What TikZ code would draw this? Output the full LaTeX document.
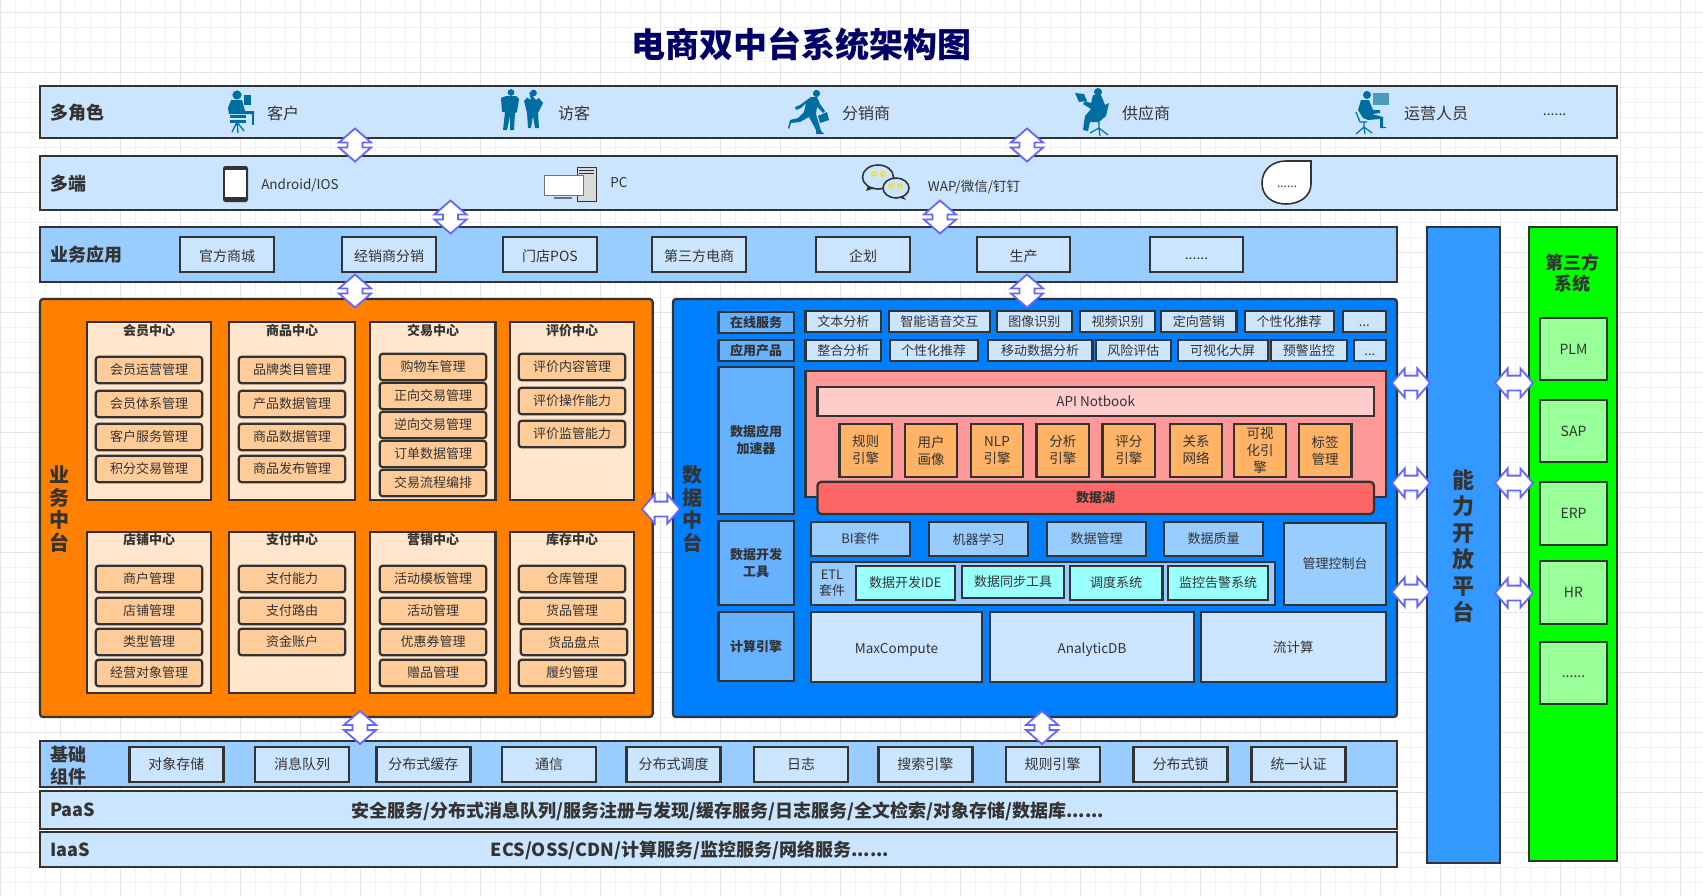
\documentclass[tikz,border=0pt]{standalone}
\usepackage{fontspec}
\setmainfont{Noto Sans CJK SC}
\usepackage{tikz}
\usetikzlibrary{shapes.arrows}

\definecolor{ink}{HTML}{333333}
\definecolor{titleblue}{HTML}{000066}
\definecolor{linkblue}{HTML}{6666FF}
\definecolor{iconblue}{HTML}{006EA0}
\definecolor{pale}{HTML}{CCE5FF}
\definecolor{midblue}{HTML}{99CCFF}
\definecolor{centrebg}{HTML}{FFE6CC}
\definecolor{itembg}{HTML}{FFCC99}
\definecolor{tagblue}{HTML}{66B2FF}
\definecolor{enginebg}{HTML}{FFB366}
\definecolor{etlbg}{HTML}{99FFFF}
\definecolor{thirdbg}{HTML}{99FF99}
\definecolor{bizbg}{HTML}{FF8000}
\definecolor{databg}{HTML}{007FFF}
\definecolor{pinkbg}{HTML}{FF9999}
\definecolor{notebg}{HTML}{FFCCCC}
\definecolor{lakebg}{HTML}{FF6666}
\definecolor{openbg}{HTML}{3399FF}
\definecolor{greenbg}{HTML}{00FF00}

\tikzset{
  txt/.style={text=ink,inner sep=0pt,align=center,font=\fontsize{13.5pt}{17pt}\selectfont},
  rolename/.style={txt,font=\fontsize{16pt}{18pt}\selectfont},
  head/.style={text=ink,inner sep=0pt,align=center,font=\fontsize{18pt}{22pt}\selectfont\bfseries},
  centretitle/.style={txt,font=\fontsize{13pt}{17pt}\selectfont\bfseries},
  box/.style={draw=ink,line width=2.2pt,outer sep=0pt,inner sep=0pt,text=ink,align=center,font=\fontsize{13pt}{17pt}\selectfont},
  band/.style={box,minimum height=#1},
  panel/.style={box,fill=#1,rounded corners=3pt},
  appbox/.style={box,fill=pale,font=\fontsize{14pt}{17pt}\selectfont,minimum width=93.5,minimum height=35},
  dropped/.style={text height=13pt,text depth=0pt},
  dots/.style={text height=9pt,text depth=0pt},
  centre/.style={box,fill=centrebg,minimum height=#1},
  item/.style={box,fill=itembg,rounded corners=3pt,minimum width=106.5,minimum height=26.6},
  tag/.style={box,fill=tagblue,font=\fontsize{13pt}{17pt}\selectfont\bfseries,minimum width=75.6},
  svc/.style={box,fill=pale,minimum height=21.6},
  engine/.style={box,fill=enginebg,font=\fontsize{13.5pt}{17pt}\selectfont,minimum width=52.5,minimum height=53.3},
  tool/.style={box,fill=midblue,minimum width=99,minimum height=34},
  etl/.style={box,fill=etlbg},
  calc/.style={box,fill=pale,font=\fontsize{13.5pt}{17pt}\selectfont,minimum height=69.7},
  third/.style={box,fill=thirdbg,font=\fontsize{14pt}{17pt}\selectfont,minimum width=67},
  vlink/.style={draw=linkblue,fill=white,line width=1.8pt,inner sep=5.5pt,outer sep=0pt,shape=double arrow,
    shape border rotate=90,double arrow tip angle=98,minimum height=33,minimum width=32},
  hlink/.style={draw=linkblue,fill=white,line width=1.8pt,inner sep=6.5pt,outer sep=0pt,shape=double arrow,
    double arrow tip angle=98,minimum height=38,minimum width=27},
}

\begin{document}
\begin{tikzpicture}[x=1pt,y=-1pt]
\useasboundingbox (0,0) rectangle (1703,895);

% Background grid, thin and thick lines
\begin{scope}
\clip (0,0) rectangle (1703,895);
\begin{scope}[shift={(0.7,12.3)}]
\draw[black!5,line width=0.8pt,step=15pt] (0,-15) grid (1710,885);
\draw[black!10,line width=1pt,step=60pt] (0,-15) grid (1710,885);
\end{scope}
\end{scope}

% Title
\node [text=titleblue,inner sep=0pt,font=\fontsize{34pt}{40pt}\selectfont\bfseries] (title) at (801,44) {电商双中台系统架构图};

% Top rows: roles and terminals
\node [band=52,fill=pale,minimum width=1577] (role) at (828.5,112) {};
\node [band=54,fill=pale,minimum width=1577] (term) at (828.5,183) {};
\node [head,anchor=west] (roleLabel) at (50,113) {多角色};
\node [head,anchor=west] (termLabel) at (50,184) {多端};

\node [rolename] (rCustomer) at (283,113) {客户};
\node [rolename] (rVisitor) at (574,113) {访客};
\node [rolename] (rDealer) at (866,113) {分销商};
\node [rolename] (rSupplier) at (1146,113) {供应商};
\node [rolename] (rOperator) at (1436,113) {运营人员};
\node [txt,font=\fontsize{14pt}{17pt}\selectfont] (rMore) at (1554.6,114.5) {......};

\node [txt] (tPhone) at (300,185) {Android/IOS};
\node [txt] (tPc) at (619,183) {PC};
\node [txt] (tChat) at (974,187) {WAP/微信/钉钉};

% Icon: customer at a desk
\fill[iconblue] (237,95) circle [radius=4.6];
\fill[iconblue] (231,100) -- (242,100) -- (245,111) -- (254,111) -- (254,114) -- (229,114) -- (228,108) -- cycle;
\fill[iconblue] (244,95) rectangle (251,105);
\fill[iconblue] (230,115) rectangle (246,118);
\fill[iconblue] (230,119.5) rectangle (246,122.5);
\fill[iconblue] (251.5,114) rectangle (253.5,125);
\draw[iconblue,line width=1.3pt] (237,122) -- (232,132) (237,122) -- (238,133) (237,122) -- (244,131);

% Icon: visitors, man and woman
\fill[iconblue] (511,92.5) circle [radius=3.4];
\fill[iconblue] (501,98) -- (506,96) -- (516,96) -- (519,99) -- (517,112) -- (515,113) -- (514,130) -- (510,130) -- (510,116) -- (507,130) -- (503,130) -- (505,112) -- (502,112) -- cycle;
\fill[iconblue] (533.5,93) circle [radius=3.4];
\fill[iconblue] (529,92) -- (531,100) -- (527,97.5) -- (524,101) -- (527,113) -- (528,128) -- (531,128) -- (533,116) -- (535,128) -- (539,128) -- (538,113) -- (543,103) -- (539,98) -- (536,100) -- cycle;

% Icon: dealer running with a case
\fill[iconblue] (816.5,93.5) circle [radius=3.6];
\fill[iconblue] (811,97) -- (817,97) -- (820,104) -- (825,111) -- (823,113) -- (817,107) -- (816,114) -- (821,131) -- (824,134) -- (816,134) -- (816,130) -- (809,117) -- (800,122) -- (791,123) -- (789,129) -- (788,128) -- (790,120) -- (798,118) -- (804,112) -- (806,103) -- (801,108) -- (796,110) -- (795,107) -- (800,105) -- cycle;
\fill[iconblue] (818,116) -- (827,112) -- (829,120) -- (820,123) -- cycle;

% Icon: supplier on a chair with a laptop
\fill[iconblue] (1098,92) circle [radius=4];
\fill[iconblue] (1075,93) -- (1084,94) -- (1087,101) -- (1079,102) -- cycle;
\fill[iconblue] (1093,95) -- (1101,95) -- (1105,105) -- (1109,103) -- (1106,116) -- (1099,122) -- (1090,122) -- (1088,131) -- (1083,130) -- (1085,116) -- (1091,109) -- (1083,104) -- (1085,101) -- (1091,103) -- cycle;
\draw[iconblue,line width=1.2pt] (1099,122) -- (1099,128) (1090,133) -- (1099,128) -- (1108,135) (1099,128) -- (1100,136);

% Icon: operator at a computer
\fill[iconblue] (1367,95) circle [radius=4];
\fill[iconblue] (1361,100) -- (1369,100) -- (1373,110) -- (1380,110) -- (1380,113) -- (1372,114) -- (1383,117) -- (1383,127) -- (1386,127) -- (1386,128) -- (1380,128) -- (1380,119) -- (1368,120) -- (1363,118) -- (1358,110) -- cycle;
\fill[iconblue!70!white] (1373,93) rectangle (1389,105);
\draw[iconblue,line width=1.2pt] (1356,112) -- (1360,122) -- (1367,122) (1364,122) -- (1364,127) (1356,134) -- (1364,127) -- (1372,133) (1364,127) -- (1365,134);

% Icon: phone
\fill[ink,rounded corners=2.5pt] (223,166) rectangle (248,202);
\fill[white] (225,170) rectangle (246,197);
% Icon: pc tower and screen
\draw[ink,fill=black!15,line width=1pt] (577,167) rectangle (596,201);
\draw[ink,line width=1pt] (579,170) -- (594,170) (579,173) -- (594,173);
\draw[black!55,fill=white,line width=1pt] (544,175) rectangle (583,195);
\fill[black!55] (554,197) rectangle (572,199);
% Icon: chat bubbles
\draw[ink,fill=pale,line width=1.6pt] (878,177) circle [x radius=15.5,y radius=12];
\fill[ink] (868,186) -- (866,191) -- (875,188) -- cycle;
\draw[ink,fill=pale,line width=1.6pt] (896,188) circle [x radius=13,y radius=10];
\fill[ink] (903,196) -- (906,200) -- (898,197) -- cycle;
\draw[yellow!80!orange,line width=1.3pt] (874,174) circle [radius=2.2] (883,174) circle [radius=2.2] (891,186) circle [radius=2.2] (900,186) circle [radius=2.2];
% Icon: tear shaped more
\draw[ink,fill=white,line width=1.6pt] (1311,161) -- (1311,184) .. controls (1311,196) and (1300,204) .. (1286,204) .. controls (1272,204) and (1262,196) .. (1262,183) .. controls (1262,170) and (1272,161) .. (1286,161) -- cycle;
\node [txt,font=\fontsize{12pt}{14pt}\selectfont] (tMore) at (1287,187) {......};

% Business application row
\node [band=55,fill=midblue,minimum width=1357] (app) at (718.5,254.5) {};
\node [head,anchor=west] (appLabel) at (50,255) {业务应用};
\node [appbox,dropped] (a1) at (227,254.5) {官方商城};
\node [appbox,dropped] (a2) at (389,254.5) {经销商分销};
\node [appbox,dropped] (a3) at (550,254.5) {门店POS};
\node [appbox,dropped] (a4) at (699,254.5) {第三方电商};
\node [appbox,dropped] (a5) at (863,254.5) {企划};
\node [appbox,dropped] (a6) at (1023.5,254.5) {生产};
\node [appbox,dots] (a7) at (1196.5,254.5) {......};

% Business middle platform
\node [panel=bizbg,minimum width=612.7,minimum height=418] (biz) at (346.35,508) {};
\node [head,font=\fontsize{20pt}{22.7pt}\selectfont\bfseries] (bizLabel) at (59.5,509) {业\\务\\中\\台};

% Upper row of centres, left to right
\node [centre=178,minimum width=124] (c1) at (149,411) {};
\node [centre=178,minimum width=126.4] (c2) at (292,411) {};
\node [centre=178,minimum width=125.5] (c3) at (432.75,411) {};
\node [centre=178,minimum width=124] (c4) at (572,411) {};
\node [centretitle] (c1t) at (149,331) {会员中心};
\node [centretitle] (c2t) at (292,331) {商品中心};
\node [centretitle] (c3t) at (433,331) {交易中心};
\node [centretitle] (c4t) at (572,331) {评价中心};

\node [item] (c1a) at (149,370) {会员运营管理};
\node [item] (c1b) at (149,404) {会员体系管理};
\node [item] (c1c) at (149,437) {客户服务管理};
\node [item] (c1d) at (149,469) {积分交易管理};

\node [item] (c2a) at (292,370) {品牌类目管理};
\node [item] (c2b) at (292,404) {产品数据管理};
\node [item] (c2c) at (292,437) {商品数据管理};
\node [item] (c2d) at (292,469) {商品发布管理};

\node [item] (c3a) at (433,367) {购物车管理};
\node [item] (c3b) at (433,396) {正向交易管理};
\node [item] (c3c) at (433,425) {逆向交易管理};
\node [item] (c3d) at (433,454) {订单数据管理};
\node [item] (c3e) at (433,483) {交易流程编排};

\node [item] (c4a) at (572,367) {评价内容管理};
\node [item] (c4b) at (572,401) {评价操作能力};
\node [item] (c4c) at (572,434) {评价监管能力};

% Lower row of centres, left to right
\node [centre=161.3,minimum width=124] (d1) at (149,612.35) {};
\node [centre=161.3,minimum width=126.4] (d2) at (292,612.35) {};
\node [centre=161.3,minimum width=125.5] (d3) at (432.75,612.35) {};
\node [centre=161.3,minimum width=124] (d4) at (572,612.35) {};
\node [centretitle] (d1t) at (149,540) {店铺中心};
\node [centretitle] (d2t) at (292,540) {支付中心};
\node [centretitle] (d3t) at (433,540) {营销中心};
\node [centretitle] (d4t) at (572,540) {库存中心};

\node [item] (d1a) at (149,579) {商户管理};
\node [item] (d1b) at (149,611) {店铺管理};
\node [item] (d1c) at (149,642) {类型管理};
\node [item] (d1d) at (149,673) {经营对象管理};

\node [item] (d2a) at (292,579) {支付能力};
\node [item] (d2b) at (292,611) {支付路由};
\node [item] (d2c) at (292,642) {资金账户};

\node [item] (d3a) at (433,579) {活动模板管理};
\node [item] (d3b) at (433,611) {活动管理};
\node [item] (d3c) at (433,642) {优惠券管理};
\node [item] (d3d) at (433,673) {赠品管理};

\node [item] (d4a) at (572,579) {仓库管理};
\node [item] (d4b) at (572,611) {货品管理};
\node [item] (d4c) at (574,642) {货品盘点};
\node [item] (d4d) at (572,673) {履约管理};

% Data middle platform
\node [panel=databg,minimum width=724,minimum height=418] (data) at (1035,508) {};
\node [head,font=\fontsize{20pt}{22.7pt}\selectfont\bfseries] (dataLabel) at (692.5,509) {数\\据\\中\\台};

% Left tags
\node [tag,minimum height=21.6] (online) at (756.2,322.5) {在线服务};
\node [tag,minimum height=21.6] (product) at (756.2,350.5) {应用产品};
\node [tag,minimum height=147.3] (accel) at (756.2,440.35) {数据应用\\加速器};
\node [tag,minimum height=84.3] (devtool) at (756.2,562.85) {数据开发\\工具};
\node [tag,minimum height=69] (compute) at (756.2,646.5) {计算引擎};

% Online services
\node [svc,minimum width=75.5] (s1) at (843.25,321.5) {文本分析};
\node [svc,minimum width=101.3] (s2) at (939.35,321.5) {智能语音交互};
\node [svc,minimum width=75.2] (s3) at (1034.4,321.5) {图像识别};
\node [svc,minimum width=75] (s4) at (1117.5,321.5) {视频识别};
\node [svc,minimum width=75.5] (s5) at (1198.75,321.5) {定向营销};
\node [svc,minimum width=89] (s6) at (1289.2,321.5) {个性化推荐};
\node [svc,dots,minimum width=43.2] (s7) at (1364.4,321.5) {...};

% Application products
\node [svc,minimum width=75.5] (p1) at (843.25,350.5) {整合分析};
\node [svc,minimum width=88] (p2) at (933.7,350.5) {个性化推荐};
\node [svc,minimum width=104.8] (p3) at (1040.1,350.5) {移动数据分析};
\node [svc,minimum width=75.1] (p4) at (1133.45,350.5) {风险评估};
\node [svc,minimum width=90] (p5) at (1222.7,350.5) {可视化大屏};
\node [svc,minimum width=75.6] (p6) at (1308.8,350.5) {预警监控};
\node [svc,dots,minimum width=32.2] (p7) at (1369.9,350.5) {...};

% Accelerator block
\node [box,fill=pinkbg,minimum width=580.5,minimum height=126.3] (accelBox) at (1095.75,433.85) {};
\node [box,fill=notebg,font=\fontsize{13.5pt}{17pt}\selectfont,minimum width=556.6,minimum height=29] (notebook) at (1095.7,401.5) {API Notbook};
\node [engine] (e1) at (865.7,450.35) {规则\\引擎};
\node [engine] (e2) at (931,450.35) {用户\\画像};
\node [engine] (e3) at (997,450.35) {NLP\\引擎};
\node [engine] (e4) at (1062.8,450.35) {分析\\引擎};
\node [engine] (e5) at (1128.8,450.35) {评分\\引擎};
\node [engine] (e6) at (1196,450.35) {关系\\网络};
\node [engine] (e7) at (1260,450.35) {可视\\化引\\擎};
\node [engine] (e8) at (1325.2,450.35) {标签\\管理};
\node [box,fill=lakebg,rounded corners=4pt,font=\fontsize{13pt}{17pt}\selectfont\bfseries,minimum width=556.6,minimum height=32.3] (lake) at (1095.7,497.85) {数据湖};

% Development tools
\node [tool] (t1) at (860.5,539) {BI套件};
\node [tool] (t2) at (978.5,539) {机器学习};
\node [tool] (t3) at (1096.5,539) {数据管理};
\node [tool] (t4) at (1213.5,539) {数据质量};
\node [box,fill=midblue,minimum width=102,minimum height=82.3] (console) at (1335,563.85) {管理控制台};
\node [box,fill=midblue,minimum width=464,minimum height=43] (etlBox) at (1043,583.5) {};
\node [txt,font=\fontsize{13pt}{16.5pt}\selectfont] (etlLabel) at (832,583) {ETL\\套件};
\node [etl,minimum width=98.7,minimum height=34] (i1) at (905.35,583) {数据开发IDE};
\node [etl,minimum width=102,minimum height=32] (i2) at (1013,582) {数据同步工具};
\node [etl,minimum width=92.4,minimum height=34] (i3) at (1116.2,583) {调度系统};
\node [etl,minimum width=100,minimum height=34] (i4) at (1218,583) {监控告警系统};

% Compute engines
\node [calc,dropped,minimum width=171] (m1) at (896.5,646.85) {MaxCompute};
\node [calc,dropped,minimum width=204] (m2) at (1092,646.85) {AnalyticDB};
\node [calc,minimum width=185.3] (m3) at (1293.35,646.85) {流计算};

% Open platform and third party systems
\node [band=636,fill=openbg,minimum width=73.3] (open) at (1463.35,544.7) {};
\node [head,font=\fontsize{22pt}{26.5pt}\selectfont\bfseries] (openLabel) at (1463,546) {能\\力\\开\\放\\平\\台};
\node [band=634,fill=greenbg,minimum width=88] (sys) at (1573,543.7) {};
\node [head,font=\fontsize{18pt}{21.5pt}\selectfont\bfseries] (sysLabel) at (1572.7,273) {第三方\\系统};
\node [third,minimum height=62] (plm) at (1573.5,349) {PLM};
\node [third,minimum height=62] (sap) at (1573.5,431) {SAP};
\node [third,minimum height=63] (erp) at (1573.5,513.5) {ERP};
\node [third,minimum height=63] (hr) at (1573.5,592.5) {HR};
\node [third,dots,minimum height=62] (more) at (1573.5,673) {......};

% Bottom rows
\node [band=46.3,fill=midblue,minimum width=1357] (base) at (718.5,763.85) {};
\node [head,anchor=west] (baseLabel) at (50,765.5) {基础\\组件};
\node [appbox,minimum width=94] (b1) at (176.4,764.5) {对象存储};
\node [appbox,minimum width=94] (b2) at (302,764.5) {消息队列};
\node [appbox,minimum width=94] (b3) at (423.4,764.5) {分布式缓存};
\node [appbox,minimum width=94] (b4) at (549,764.5) {通信};
\node [appbox,minimum width=94] (b5) at (673.5,764.5) {分布式调度};
\node [appbox,minimum width=94] (b6) at (801,764.5) {日志};
\node [appbox,minimum width=94] (b7) at (925.4,764.5) {搜索引擎};
\node [appbox,minimum width=94] (b8) at (1052.7,764.5) {规则引擎};
\node [appbox,minimum width=94] (b9) at (1180.5,764.5) {分布式锁};
\node [appbox,minimum width=94] (b10) at (1298.5,764.5) {统一认证};

\node [band=38,fill=pale,minimum width=1357] (paas) at (718.5,809.7) {};
\node [head,anchor=west] (paasLabel) at (50,810) {PaaS};
\node [head] (paasText) at (728,811) {安全服务/分布式消息队列/服务注册与发现/缓存服务/日志服务/全文检索/对象存储/数据库......};
\node [band=34.7,fill=pale,minimum width=1357] (iaas) at (718.5,849.35) {};
\node [head,anchor=west] (iaasLabel) at (50,850) {IaaS};
\node [head] (iaasText) at (690,850.5) {ECS/OSS/CDN/计算服务/监控服务/网络服务......};

% Vertical links between layers
\node [vlink] (l1) at (355,145) {};
\node [vlink] (l2) at (1027,145) {};
\node [vlink] (l3) at (450.5,217) {};
\node [vlink] (l4) at (940,217) {};
\node [vlink] (l5) at (355,291) {};
\node [vlink] (l6) at (1027,291) {};
\node [vlink] (l7) at (360,727.5) {};
\node [vlink] (l8) at (1042,727.5) {};

% Horizontal links
\node [hlink] (h0) at (661,509) {};
\node [hlink] (h1) at (1411,383) {};
\node [hlink] (h2) at (1411,483) {};
\node [hlink] (h3) at (1411,592) {};
\node [hlink] (h4) at (1514,383) {};
\node [hlink] (h5) at (1514,483) {};
\node [hlink] (h6) at (1514,593) {};

\end{tikzpicture}
\end{document}
